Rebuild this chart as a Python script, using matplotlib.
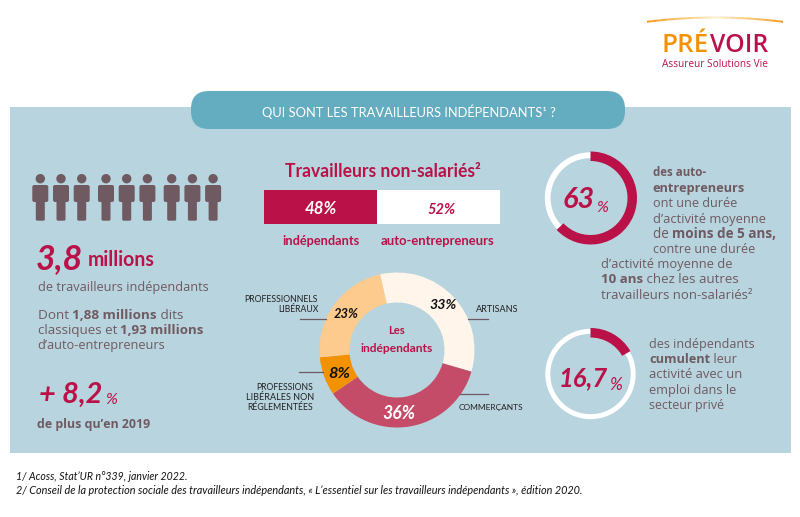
import matplotlib
matplotlib.use("Agg")
import matplotlib.pyplot as plt
from matplotlib.patches import FancyBboxPatch, Circle, Rectangle

W, H = 800, 517
CRIMSON = "#BA1248"
BODY = "#6F5A61"
PANEL = "#B8D4DE"
PILL = "#64ACC0"
ORANGE = "#F39200"
HAND = "Lato"
SANS = "Open Sans"

# data
bar_labels = ["indépendants", "auto-entrepreneurs"]
bar_values = [48, 52]
donut_labels = ["Artisans", "Commerçants", "Professions libérales non réglementées", "Professionnels libéraux"]
donut_values = [33, 36, 8, 23]
donut_colors = ["#FFF5EA", "#C44C68", "#F39200", "#FDCB8E"]
ring_a_value = 63
ring_b_value = 16.7
people_groups = [3, 3, 3]

fig = plt.figure(figsize=(W / 100, H / 100), dpi=100, facecolor="white")
rend = fig.canvas.get_renderer()

def px_axes(cx, cy, r, z=1):
    a = fig.add_axes([(cx - r) / W, 1 - (cy + r) / H, 2 * r / W, 2 * r / H], zorder=z)
    a.set_axis_off()
    return a

bg = fig.add_axes([0, 0, 1, 1], zorder=0)
bg.set_xlim(0, W); bg.set_ylim(H, 0); bg.set_axis_off()
top = fig.add_axes([0, 0, 1, 1], zorder=5)
top.set_xlim(0, W); top.set_ylim(H, 0); top.set_axis_off(); top.patch.set_alpha(0)

def fit(s, x0, x1, y, color=CRIMSON, family=HAND, **kw):
    """One text run scaled so that it spans x0..x1 pixels, centred vertically on y."""
    t = top.text(x0, y, s, color=color, family=family, fontsize=10, ha="left", va="center_baseline", **kw)
    t.set_fontsize(10 * (x1 - x0) / t.get_window_extent(rend).width)
    return t

def rich(x0, x1, y, parts):
    """One line of (text, bold) runs, scaled so that it spans x0..x1 pixels."""
    runs = [top.text(x0, y, s, color=BODY, fontsize=10, family=SANS, weight="bold" if b else "normal",
                     ha="left", va="center_baseline") for s, b in parts]
    total = sum(r.get_window_extent(rend).width for r in runs)
    size = 10 * (x1 - x0) / total
    xp = x0
    for r in runs:
        r.set_fontsize(size)
        r.set_x(xp)
        xp += r.get_window_extent(rend).width

# panel and title pill
bg.add_patch(Rectangle((10, 107), 781, 346, fc=PANEL, ec="none"))
bg.add_patch(FancyBboxPatch((191, 91), 434, 38, boxstyle="round,pad=0,rounding_size=18", fc=PILL, ec="none"))
fit("QUI SONT LES TRAVAILLEURS INDÉPENDANTS¹ ?", 262, 553, 111, color="white")

# logo
xs = [647 + i * 136 / 60 for i in range(61)]
for i in range(60):
    t = abs(i - 30) / 30
    col = (0.96 + 0.03 * (1 - t), 0.58 + 0.36 * (1 - t), 0.05 + 0.75 * (1 - t))
    y0 = 17.5 + 4.3 * t ** 2
    y1 = 17.5 + 4.3 * ((abs(i + 1 - 30)) / 30) ** 2
    bg.plot(xs[i:i + 2], [y0, y1], color=col, lw=1.4, solid_capstyle="butt")
fit("PRÉ", 661.5, 708, 43, color=ORANGE, family=SANS, weight="semibold")
fit("VOIR", 710, 768, 43, color=CRIMSON, family=SANS, weight="semibold")
fit("Assureur Solutions Vie", 661.5, 768, 62.7, color=CRIMSON, family=SANS)

# people icons
x = 40.3
gap, group_gap = 20.7, 24.3
for n in people_groups:
    for i in range(n):
        bg.add_patch(Circle((x, 178.7), 4.7, fc=BODY, ec="none"))
        bg.add_patch(FancyBboxPatch((x - 8, 185), 16, 17, boxstyle="round,pad=0,rounding_size=2", fc=BODY, ec="none"))
        bg.add_patch(FancyBboxPatch((x - 4.5, 195), 9, 25.7, boxstyle="round,pad=0,rounding_size=1.5", fc=BODY, ec="none"))
        x += gap
    x += group_gap - gap

# left column
fit("3,8", 36, 83, 256, style="italic", weight="bold")
fit("millions", 88, 155, 258, weight="bold")
rich(37.5, 208, 286, [("de travailleurs indépendants", False)])
rich(37.5, 182.7, 314, [("Dont ", False), ("1,88 millions", True), (" dits", False)])
rich(37.5, 204.3, 329, [("classiques et ", False), ("1,93 millions", True)])
rich(37.5, 165, 344, [("d’auto-entrepreneurs", False)])
fit("+ 8,2", 39, 102, 392, style="italic", weight="bold")
fit("%", 105, 117, 398, style="italic")
rich(36.7, 150, 422.7, [("de plus qu’en 2019", True)])

# stacked bar
fit("Travailleurs non-salariés²", 285, 481, 170, weight="bold")
ax_bar = fig.add_axes([264 / W, 1 - 224 / H, 236 / W, 34 / H], zorder=1)
ax_bar.set_xlim(0, sum(bar_values)); ax_bar.set_ylim(-0.5, 0.5); ax_bar.set_axis_off()
ax_bar.barh(0, bar_values[0], height=1, color=CRIMSON)
ax_bar.barh(0, bar_values[1], left=bar_values[0], height=1, color="white")
fit(f"{bar_values[0]}%", 305, 337, 208, color="white", style="italic", weight="bold")
fit(f"{bar_values[1]}%", 428, 456, 208, style="italic", weight="bold")
fit(bar_labels[0], 282.7, 360, 240, weight="bold")
fit(bar_labels[1], 381, 495, 240, weight="bold")

# donut
ax_d = px_axes(397, 350, 77.5)
ax_d.pie(donut_values, colors=donut_colors, startangle=102.6, counterclock=False, radius=1,
         wedgeprops=dict(width=1 - 47.5 / 77.5, edgecolor="none"))
ax_d.set_xlim(-1, 1); ax_d.set_ylim(-1, 1)
fit("Les", 388, 405, 330, weight="bold")
fit("indépendants", 360, 433, 347, weight="bold")
for x0, x1, yp, i, c in [(429, 456, 304, 0, "#111111"), (382, 415, 412, 1, "white"),
                         (328, 350, 372, 2, "#111111"), (334, 359, 313, 3, "#111111")]:
    fit(f"{donut_values[i]}%", x0, x1, yp, color=c, style="italic", weight="bold")

for s, a, b, y in [("PROFESSIONNELS", 244, 318, 298), ("LIBÉRAUX", 278, 318, 308), ("PROFESSIONS", 256, 313, 386),
                   ("LIBÉRALES NON", 246, 313, 396), ("RÉGLEMENTÉES", 247, 313, 407), ("ARTISANS", 476, 518, 308),
                   ("COMMERÇANTS", 459, 524, 407)]:
    fit(s, a, b, y, color="#222222")
for (a, b, y) in [(468, 488, 319), (460, 488, 394), (300, 326, 319), (299, 323, 372)]:
    top.plot([a, b], [y, y], color=BODY, lw=0.9)

# rings
def ring(cx, cy, r, value, w_main, w_rest):
    a = px_axes(cx, cy, r)
    a.pie([100], colors=["white"], radius=(r - 0.8) / r, wedgeprops=dict(width=w_rest / r))
    a.pie([value / 100], colors=[CRIMSON], startangle=90, counterclock=False, radius=1, normalize=False,
          wedgeprops=dict(width=w_main / r))
    a.set_xlim(-1, 1); a.set_ylim(-1, 1)

ring(590.5, 198, 46.5, ring_a_value, 9.5, 5.8)
ring(590.5, 374, 46, ring_b_value, 9.5, 5)
fit(f"{ring_a_value}", 563, 595, 198, style="italic", weight="bold")
fit("%", 596, 608, 206, style="italic")
fit("16,7", 559, 608, 376, style="italic", weight="bold")
fit("%", 609, 622, 384, style="italic")

# right text
rich(652.7, 706, 171, [("des auto-", True)])
rich(652.7, 745, 186.7, [("entrepreneurs", True)])
rich(652.7, 736.7, 201.7, [("ont une durée", False)])
rich(652.7, 765, 217.7, [("d’activité moyenne", False)])
rich(652.7, 776, 232.7, [("de ", False), ("moins de 5 ans,", True)])
rich(652.7, 754, 247.7, [("contre une durée", False)])
rich(601, 732.3, 263, [("d’activité moyenne de", False)])
rich(601, 738.3, 278.3, [("10 ans", True), (" chez les autres", False)])
rich(601, 751.7, 294, [("travailleurs non-salariés²", False)])
rich(649, 753.3, 343.3, [("des indépendants", False)])
rich(649, 737.3, 358.3, [("cumulent", True), (" leur", False)])
rich(649, 742.3, 373.3, [("activité avec un", False)])
rich(649, 736, 389.3, [("emploi dans le", False)])
rich(649, 724, 404, [("secteur privé", False)])

# footnotes
fit("1/ Acoss, Stat’UR n°339, janvier 2022.", 16, 187, 476, color="#111111", style="italic")
fit("2/ Conseil de la protection sociale des travailleurs indépendants, « L’essentiel sur les travailleurs indépendants », édition 2020.",
    16, 584, 490, color="#111111", style="italic")

fig.savefig("out.png", dpi=100)
